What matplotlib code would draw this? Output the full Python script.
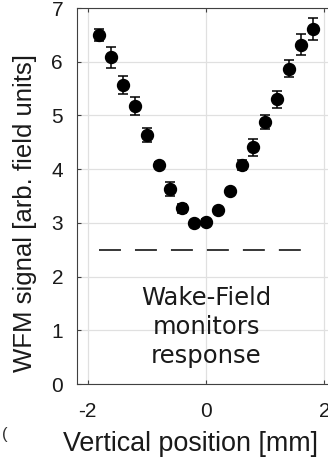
import matplotlib.pyplot as plt
import numpy as np

# beam position scan (mm) vs WFM signal
pos = [-1.8, -1.6, -1.4, -1.2, -1.0, -0.8, -0.6, -0.4, -0.2, 0.0,
       0.2, 0.4, 0.6, 0.8, 1.0, 1.2, 1.4, 1.6, 1.8]
signal = [6.50, 6.08, 5.56, 5.17, 4.64, 4.08, 3.63, 3.27, 3.00, 3.02,
          3.24, 3.60, 4.08, 4.41, 4.87, 5.30, 5.87, 6.32, 6.61]
err = [0.11, 0.20, 0.17, 0.17, 0.13, 0.05, 0.13, 0.09, 0.03, 0.05,
       0.03, 0.03, 0.09, 0.16, 0.13, 0.16, 0.16, 0.20, 0.21]

# noise floor level
floor_x = [-1.8, 1.8]
floor_y = [2.5, 2.5]

xticks = [-2, 0, 2]
yticks = [0, 1, 2, 3, 4, 5, 6, 7]

plt.rcParams['font.family'] = ['Liberation Sans', 'DejaVu Sans']
plt.rcParams['lines.scale_dashes'] = False
plt.rcParams['axes.unicode_minus'] = False

fig = plt.figure(figsize=(3.28, 4.62), dpi=100)
ax = fig.add_axes([77/328, 78/462, 258/328, 376/462])

ax.errorbar(pos, signal, yerr=err, fmt='o', color='black', markersize=8.6,
            elinewidth=1.1, capsize=3.6, capthick=1.1, zorder=3)
ax.plot(floor_x, floor_y, color='black', linewidth=1.1, dashes=(15.8, 10.1))

ax.text(0, 1.06, 'Wake-Field\nmonitors\nresponse', family='DejaVu Sans',
        fontsize=17.5, ha='center', va='center', linespacing=1.25, color='#1a1a1a')

ax.set_xlim(-2.18, 2.18)
ax.set_ylim(0, 7)
ax.set_xticks(xticks)
ax.set_yticks(yticks)
ax.grid(True, color='#e0e0e0', linewidth=0.9)
ax.set_axisbelow(True)

for s in ax.spines.values():
    s.set_color('#404040')
    s.set_linewidth(0.8)

ax.tick_params(direction='in', length=3, width=0.8, color='#404040',
               labelsize=15, labelcolor='#1a1a1a', top=True, right=True)
ax.tick_params(axis='y', pad=10)
ax.tick_params(axis='x', pad=13)

ax.set_xlabel('Vertical position [mm]', fontsize=19.4, color='#1a1a1a')
ax.xaxis.set_label_coords(0.438, -0.125)
ax.set_ylabel('WFM signal [arb. field units]', fontsize=18.5, color='#1a1a1a')
ax.yaxis.set_label_coords(-0.155, 0.455)

fig.text(5/328, 1 - 435/462, '(', fontsize=12, ha='center', va='center', color='#333333')

fig.savefig('out.png', dpi=100)
